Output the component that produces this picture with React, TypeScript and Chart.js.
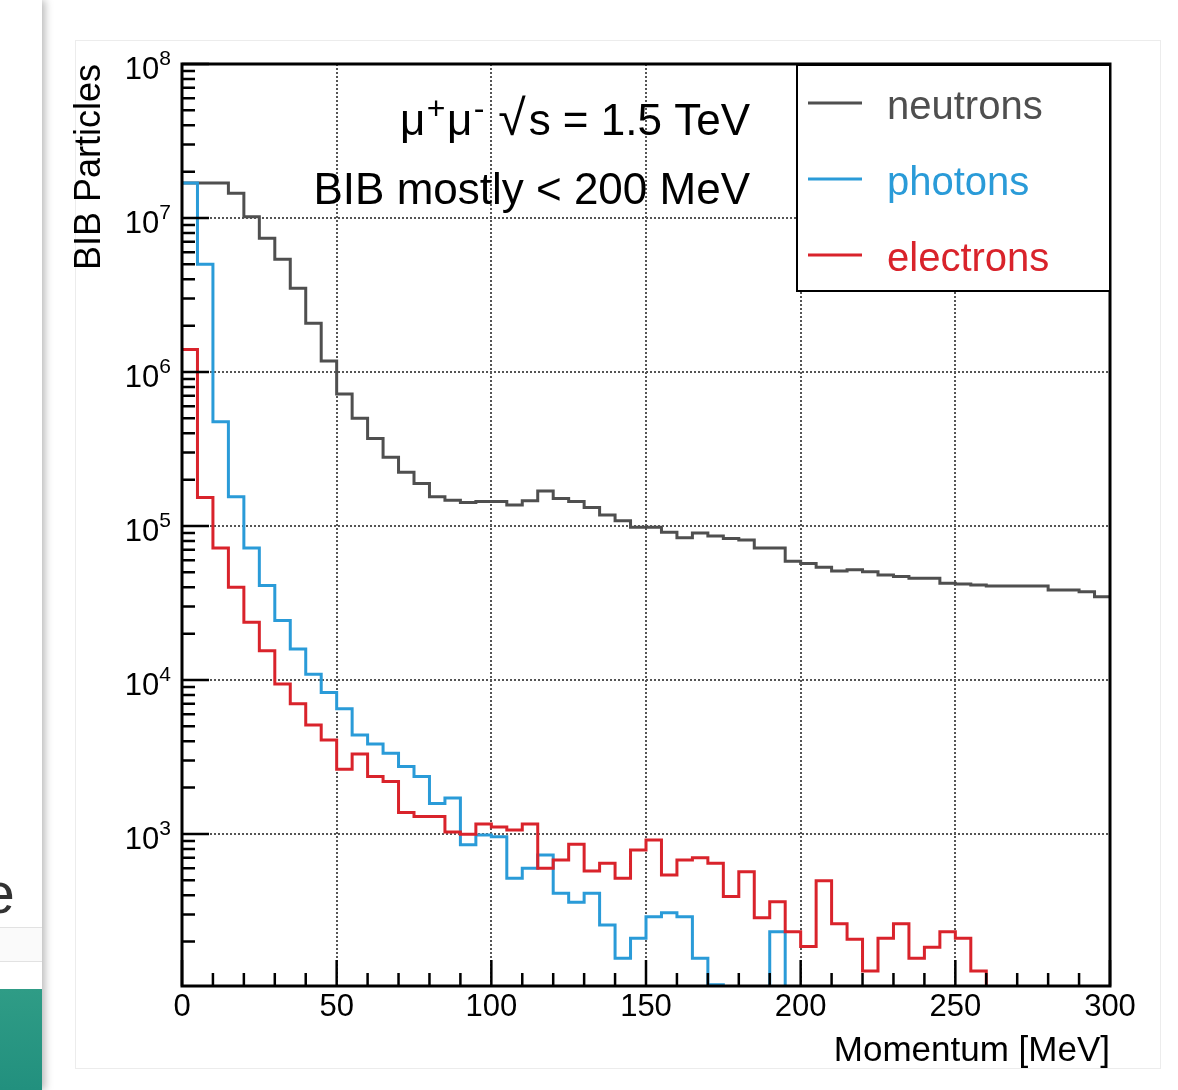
import React, { useEffect, useRef } from 'react';
import { Chart, registerables } from 'chart.js';

Chart.register(...registerables);

const FONT = '"Liberation Sans", Arial, Helvetica, sans-serif';

// Histogram bin edges [MeV] (5 MeV bins, 0 – 300)
const binEdges = [
  0, 5, 10, 15, 20, 25, 30, 35, 40, 45, 50, 55, 60, 65, 70, 75, 80, 85, 90, 95,
  100, 105, 110, 115, 120, 125, 130, 135, 140, 145, 150, 155, 160, 165, 170, 175, 180, 185, 190, 195,
  200, 205, 210, 215, 220, 225, 230, 235, 240, 245, 250, 255, 260, 265, 270, 275, 280, 285, 290, 295,
  300,
];

const neutrons = [
  1.69e7, 1.69e7, 1.69e7, 1.45e7, 1.02e7, 7.4e6, 5.4e6, 3.5e6, 2.07e6, 1.18e6,
  7.2e5, 5.0e5, 3.7e5, 2.8e5, 2.23e5, 1.89e5, 1.55e5, 1.47e5, 1.42e5, 1.44e5,
  1.44e5, 1.37e5, 1.46e5, 1.69e5, 1.51e5, 1.44e5, 1.32e5, 1.18e5, 1.08e5, 9.8e4,
  9.8e4, 9.1e4, 8.4e4, 9.0e4, 8.6e4, 8.3e4, 8.1e4, 7.2e4, 7.2e4, 5.9e4,
  5.7e4, 5.4e4, 5.1e4, 5.2e4, 5.05e4, 4.8e4, 4.7e4, 4.57e4, 4.57e4, 4.25e4,
  4.2e4, 4.14e4, 4.08e4, 4.08e4, 4.08e4, 4.08e4, 3.84e4, 3.84e4, 3.74e4, 3.47e4,
];

const photons = [
  1.69e7, 5.0e6, 4.75e5, 1.55e5, 7.2e4, 4.1e4, 2.43e4, 1.59e4, 1.09e4, 8.3e3,
  6.5e3, 4.4e3, 3.84e3, 3.34e3, 2.74e3, 2.36e3, 1.58e3, 1.71e3, 850, 986,
  960, 515, 598, 731, 412, 360, 412, 256, 156, 210,
  290, 308, 290, 156, 105, 0, 0, 0, 232, 0,
  0, 0, 0, 0, 0, 0, 0, 0, 0, 0,
  0, 0, 0, 0, 0, 0, 0, 0, 0, 0,
];

const electrons = [
  1.4e6, 1.53e5, 7.2e4, 4.0e4, 2.37e4, 1.55e4, 9.4e3, 7.0e3, 5.1e3, 4.07e3,
  2.63e3, 3.31e3, 2.36e3, 2.19e3, 1.38e3, 1.3e3, 1.3e3, 1.03e3, 995, 1.16e3,
  1.11e3, 1.06e3, 1.16e3, 598, 677, 857, 575, 645, 515, 787,
  914, 542, 677, 701, 645, 392, 569, 286, 363, 232,
  186, 497, 261, 207, 129, 210, 261, 156, 184, 232,
  210, 129, 0, 0, 0, 0, 0, 0, 0, 0,
];

const seriesLabels = ['neutrons', 'photons', 'electrons'];
const seriesColors = ['#4f4f4f', '#2a9bd8', '#d9232b'];
const xTickValues = [0, 50, 100, 150, 200, 250, 300];
const yTickValues = [1e3, 1e4, 1e5, 1e6, 1e7, 1e8];
// rich-text annotation: [text, style]  (n = normal, s = superscript, r = radical)
const annotationLine1: [string, string][] = [['μ', 'n'], ['+', 's'], ['μ', 'n'], ['-', 's'], [' ', 'n'], ['√', 'r'], ['s = 1.5 TeV', 'n']];
const annotationLine2 = 'BIB mostly < 200 MeV';
const xTitle = 'Momentum [MeV]';
const yTitle = 'BIB Particles';

// empty bins are drawn below the axis (clipped), like ROOT's empty bins
const EMPTY = 1;
function toSteps(vals: number[]) {
  return binEdges.map((x, i) => {
    const v = vals[Math.min(i, vals.length - 1)];
    return { x, y: v > 0 ? v : EMPTY };
  });
}

const rootFramePlugin = {
  id: 'rootFrame',
  afterDatasetsDraw(chart: any) {
    const { ctx, chartArea: a } = chart;
    const xs = chart.scales.x;
    const ys = chart.scales.y;
    ctx.save();

    // annotation text line 1 (with superscripts), right aligned
    ctx.fillStyle = '#000';
    ctx.textAlign = 'left';
    ctx.textBaseline = 'alphabetic';
    const fonts: Record<string, string> = { n: `44px ${FONT}`, s: `32px ${FONT}`, r: `50px ${FONT}` };
    const gap: Record<string, number> = { n: 0, s: 3, r: 3 };
    let total = 0;
    annotationLine1.forEach(([t, st]) => {
      ctx.font = fonts[st];
      total += ctx.measureText(t).width + gap[st];
    });
    let cx = 750 - total;
    annotationLine1.forEach(([t, st]) => {
      ctx.font = fonts[st];
      ctx.fillText(t, cx + (st === 's' ? 1.5 : 0), st === 's' ? 135 - 16 : 135);
      cx += ctx.measureText(t).width + gap[st];
    });
    ctx.font = fonts.n;
    ctx.textAlign = 'right';
    ctx.fillText(annotationLine2, 750, 204);

    // y tick labels 10^n with raised exponent, at the scale's tick positions
    ys.ticks.forEach((tk: any) => {
      const py = ys.getPixelForValue(tk.value);
      const e = String(Math.round(Math.log10(tk.value)));
      ctx.font = `21px ${FONT}`;
      ctx.textAlign = 'left';
      const ew = ctx.measureText(e).width;
      const xr = a.left - 11 - ew;
      ctx.fillText(e, xr, py + 1);
      ctx.font = `31px ${FONT}`;
      ctx.textAlign = 'right';
      ctx.fillText('10', xr, py + 15);
    });

    // inner ticks
    ctx.strokeStyle = '#000';
    ctx.lineWidth = 2.5;
    ctx.beginPath();
    for (let v = xs.min; v <= xs.max; v += 10) {
      const px = xs.getPixelForValue(v);
      const len = v % 50 === 0 ? 26 : 13;
      ctx.moveTo(px, a.bottom);
      ctx.lineTo(px, a.bottom - len);
    }
    const d0 = Math.floor(Math.log10(ys.min));
    const d1 = Math.ceil(Math.log10(ys.max));
    for (let d = d0; d <= d1; d++) {
      for (let m = 1; m <= 9; m++) {
        const v = m * Math.pow(10, d);
        if (v < ys.min * 0.999 || v > ys.max * 1.001) continue;
        const py = ys.getPixelForValue(v);
        const len = m === 1 ? 27 : 13;
        ctx.moveTo(a.left, py);
        ctx.lineTo(a.left + len, py);
      }
    }
    ctx.stroke();

    // frame
    ctx.lineWidth = 3;
    ctx.strokeRect(a.left, a.top, a.right - a.left, a.bottom - a.top);

    // legend box
    const lg = { left: 797, top: 65, right: a.right, bottom: 291 };
    ctx.fillStyle = '#fff';
    ctx.fillRect(lg.left, lg.top, lg.right - lg.left, lg.bottom - lg.top);
    ctx.lineWidth = 2;
    ctx.strokeStyle = '#000';
    ctx.strokeRect(lg.left, lg.top, lg.right - lg.left, lg.bottom - lg.top);
    ctx.font = `40px ${FONT}`;
    ctx.textAlign = 'left';
    chart.data.datasets.forEach((ds: any, i: number) => {
      const ly = 103 + 76 * i;
      ctx.strokeStyle = ds.borderColor;
      ctx.lineWidth = 3;
      ctx.beginPath();
      ctx.moveTo(808, ly);
      ctx.lineTo(862, ly);
      ctx.stroke();
      ctx.fillStyle = ds.borderColor;
      ctx.fillText(ds.label, 887, ly + 16);
    });

    ctx.restore();
  },
};

export default function App() {
  const ref = useRef<HTMLCanvasElement>(null);

  useEffect(() => {
    const seriesData = [neutrons, photons, electrons];
    const chart = new Chart(ref.current as HTMLCanvasElement, {
      type: 'line',
      data: {
        datasets: seriesData.map((vals, i) => ({
          label: seriesLabels[i],
          data: toSteps(vals),
          borderColor: seriesColors[i],
          backgroundColor: seriesColors[i],
          borderWidth: 3,
          pointRadius: 0,
          stepped: 'before' as const,
          fill: false,
          tension: 0,
          borderJoinStyle: 'miter' as const,
          order: 2 - i,
        })),
      },
      options: {
        responsive: false,
        animation: false,
        devicePixelRatio: 1,
        layout: { padding: { left: 0, top: 64, right: 68, bottom: 0 } },
        plugins: { legend: { display: false }, tooltip: { enabled: false } },
        scales: {
          x: {
            type: 'linear',
            min: 0,
            max: 300,
            afterFit: (s: any) => { s.height = 104; },
            afterBuildTicks: (s: any) => { s.ticks = xTickValues.map((v) => ({ value: v })); },
            ticks: {
              autoSkip: false,
              maxRotation: 0,
              minRotation: 0,
              padding: 3,
              color: '#000',
              font: { family: FONT, size: 31 },
              callback: (v: any) => String(v),
            },
            grid: {
              color: (c: any) => (c.tick && (c.tick.value === 0 || c.tick.value === 300) ? 'rgba(0,0,0,0)' : '#555'),
              lineWidth: 2,
              drawTicks: false,
            },
            border: { display: false, dash: [2, 2] },
            title: {
              display: true,
              text: xTitle,
              align: 'end',
              color: '#000',
              font: { family: FONT, size: 35 },
              padding: { top: 0, bottom: 18 },
            },
          },
          y: {
            type: 'logarithmic',
            min: 103,
            max: 1e8,
            afterFit: (s: any) => { s.width = 182; },
            afterBuildTicks: (s: any) => { s.ticks = yTickValues.map((v) => ({ value: v })); },
            ticks: { display: false, autoSkip: false },
            grid: {
              color: (c: any) => (c.tick && c.tick.value >= 1e8 ? 'rgba(0,0,0,0)' : '#555'),
              lineWidth: 2,
              drawTicks: false,
            },
            border: { display: false, dash: [2, 2] },
            title: {
              display: true,
              text: yTitle,
              align: 'end',
              color: '#000',
              font: { family: FONT, size: 36 },
              padding: { top: 68, bottom: 0 },
            },
          },
        },
      },
      plugins: [rootFramePlugin],
    } as any);
    return () => chart.destroy();
  }, []);

  return (
    <div style={{ position: 'fixed', left: 0, top: 0, width: 1178, height: 1090, background: '#fff', overflow: 'hidden' }}>
      <div style={{ position: 'absolute', left: 75, top: 40, width: 1086, height: 1029, border: '1px solid #ececec', boxSizing: 'border-box' }} />
      <canvas ref={ref} width={1178} height={1090} style={{ position: 'absolute', left: 0, top: 0, width: 1178, height: 1090 }} />
      <div style={{ position: 'absolute', left: 0, top: 0, width: 42, height: 1090, background: '#fff', boxShadow: '3px 0 8px rgba(0,0,0,0.28)', overflow: 'hidden' }}>
        <div style={{ position: 'absolute', left: -17, top: 865, fontSize: 57, lineHeight: '57px', fontFamily: FONT, color: '#333', fontWeight: 300 }}>e</div>
        <div style={{ position: 'absolute', left: 0, top: 927, width: 42, height: 33, borderTop: '1px solid #e2e2e2', borderBottom: '1px solid #e2e2e2', background: '#fafafa' }} />
        <div style={{ position: 'absolute', left: 0, top: 989, width: 42, height: 101, background: 'linear-gradient(180deg, #2f9c86, #22907e)' }} />
      </div>
    </div>
  );
}
